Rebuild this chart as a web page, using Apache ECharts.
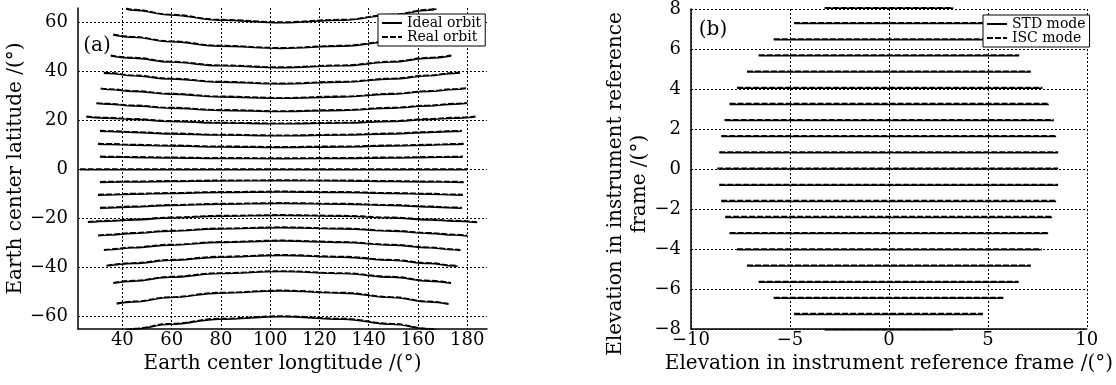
<!DOCTYPE html>
<html>
<head>
<meta charset="utf-8">
<script src="https://cdn.jsdelivr.net/npm/echarts/dist/echarts.min.js"></script>
<style>
html, body { margin: 0; padding: 0; background: #fff; }
#main { width: 1116px; height: 385px; }
</style>
</head>
<body>
<div id="main"></div>
<script>
// (a) scan lines on the Earth: one row per line, north to south
var orbitLon = [
  [41.5, 44.5, 59.5, 79.5, 104.5, 129.5, 149.5, 164.5, 167.5],
  [36.3, 44.5, 59.5, 79.5, 104.5, 129.5, 149.5, 164.5, 172.7],
  [35.3, 44.5, 59.5, 79.5, 104.5, 129.5, 149.5, 164.5, 173.5],
  [32.5, 34.5, 44.5, 59.5, 79.5, 104.5, 129.5, 149.5, 164.5, 174.5, 177.0],
  [31.2, 34.5, 44.5, 59.5, 79.5, 104.5, 129.5, 149.5, 164.5, 174.5, 179.5],
  [29.5, 34.5, 44.5, 59.5, 79.5, 104.5, 129.5, 149.5, 164.5, 174.5, 180.0],
  [25.4, 34.5, 44.5, 59.5, 79.5, 104.5, 129.5, 149.5, 164.5, 174.5, 183.3],
  [30.9, 34.5, 44.5, 59.5, 79.5, 104.5, 129.5, 149.5, 164.5, 174.5, 177.8],
  [30.1, 34.5, 44.5, 59.5, 79.5, 104.5, 129.5, 149.5, 164.5, 174.5, 178.5],
  [30.9, 34.5, 44.5, 59.5, 79.5, 104.5, 129.5, 149.5, 164.5, 174.5, 178.2],
  [22.8, 104.5, 180.0],
  [30.9, 34.5, 44.5, 59.5, 79.5, 104.5, 129.5, 149.5, 164.5, 174.5, 178.5],
  [30.1, 34.5, 44.5, 59.5, 79.5, 104.5, 129.5, 149.5, 164.5, 174.5, 178.2],
  [30.9, 34.5, 44.5, 59.5, 79.5, 104.5, 129.5, 149.5, 164.5, 174.5, 177.8],
  [26.0, 34.5, 44.5, 59.5, 79.5, 104.5, 129.5, 149.5, 164.5, 174.5, 184.0],
  [30.1, 34.5, 44.5, 59.5, 79.5, 104.5, 129.5, 149.5, 164.5, 174.5, 180.0],
  [32.5, 34.5, 44.5, 59.5, 79.5, 104.5, 129.5, 149.5, 164.5, 174.5, 177.2],
  [33.6, 44.5, 59.5, 79.5, 104.5, 129.5, 149.5, 164.5, 174.5, 176.1],
  [36.3, 44.5, 59.5, 79.5, 104.5, 129.5, 149.5, 164.5, 173.4],
  [37.7, 44.5, 59.5, 79.5, 104.5, 129.5, 149.5, 164.5, 172.4],
  [41.5, 44.5, 59.5, 79.5, 104.5, 129.5, 149.5, 164.5, 167.5]
];
var idealLat = [
  [65.6, 65.1, 63.1, 61.0, 60.0, 61.0, 63.1, 65.1, 65.6],
  [55.0, 54.0, 52.2, 50.4, 49.5, 50.4, 52.2, 54.0, 55.0],
  [46.4, 45.5, 43.9, 42.4, 41.6, 42.4, 43.9, 45.5, 46.4],
  [39.4, 39.3, 38.3, 37.0, 35.7, 35.0, 35.7, 37.0, 38.3, 39.3, 39.5],
  [33.0, 32.7, 31.9, 30.8, 29.7, 29.1, 29.7, 30.8, 31.9, 32.7, 33.1],
  [27.0, 26.7, 26.0, 25.1, 24.2, 23.7, 24.2, 25.1, 26.0, 26.7, 27.1],
  [21.5, 21.0, 20.5, 19.7, 19.0, 18.7, 19.0, 19.7, 20.5, 21.0, 21.5],
  [15.7, 15.6, 15.2, 14.6, 14.1, 13.8, 14.1, 14.6, 15.2, 15.6, 15.7],
  [10.4, 10.3, 10.0, 9.7, 9.3, 9.1, 9.3, 9.7, 10.0, 10.3, 10.4],
  [5.2, 5.1, 5.0, 4.8, 4.6, 4.5, 4.6, 4.8, 5.0, 5.1, 5.2],
  [0, 0, 0],
  [-5.2, -5.1, -5.0, -4.8, -4.6, -4.5, -4.6, -4.8, -5.0, -5.1, -5.2],
  [-10.4, -10.3, -10.0, -9.7, -9.3, -9.1, -9.3, -9.7, -10.0, -10.3, -10.4],
  [-15.7, -15.6, -15.2, -14.6, -14.1, -13.8, -14.1, -14.6, -15.2, -15.6, -15.7],
  [-21.5, -21.0, -20.5, -19.7, -19.0, -18.7, -19.0, -19.7, -20.5, -21.0, -21.6],
  [-27.0, -26.7, -26.0, -25.1, -24.2, -23.7, -24.2, -25.1, -26.0, -26.7, -27.05],
  [-32.9, -32.7, -31.9, -30.8, -29.7, -29.1, -29.7, -30.8, -31.9, -32.7, -32.95],
  [-39.35, -38.3, -37.0, -35.7, -35.0, -35.7, -37.0, -38.3, -39.3, -39.4],
  [-46.35, -45.5, -43.9, -42.4, -41.6, -42.4, -43.9, -45.5, -46.4],
  [-54.8, -54.0, -52.2, -50.4, -49.5, -50.4, -52.2, -54.0, -54.95],
  [-65.6, -65.1, -63.1, -61.0, -60.0, -61.0, -63.1, -65.1, -65.6]
];
var realLat = [
  [65.9, 65.4, 63.4, 61.3, 60.3, 61.3, 63.4, 65.4, 65.9],
  [55.3, 54.3, 52.5, 50.7, 49.8, 50.7, 52.5, 54.3, 55.3],
  [46.7, 45.8, 44.2, 42.7, 41.9, 42.7, 44.2, 45.8, 46.7],
  [39.7, 39.6, 38.6, 37.3, 36.0, 35.3, 36.0, 37.3, 38.6, 39.6, 39.8],
  [33.3, 33.0, 32.2, 31.1, 30.0, 29.4, 30.0, 31.1, 32.2, 33.0, 33.4],
  [27.3, 27.0, 26.3, 25.4, 24.5, 24.0, 24.5, 25.4, 26.3, 27.0, 27.4],
  [21.8, 21.3, 20.8, 20.0, 19.3, 19.0, 19.3, 20.0, 20.8, 21.3, 21.8],
  [16.0, 15.9, 15.5, 14.9, 14.4, 14.1, 14.4, 14.9, 15.5, 15.9, 16.0],
  [10.7, 10.6, 10.3, 10.0, 9.6, 9.4, 9.6, 10.0, 10.3, 10.6, 10.7],
  [5.5, 5.4, 5.3, 5.1, 4.9, 4.8, 4.9, 5.1, 5.3, 5.4, 5.5],
  [0.3, 0.3, 0.3],
  [-4.9, -4.8, -4.7, -4.5, -4.3, -4.2, -4.3, -4.5, -4.7, -4.8, -4.9],
  [-10.1, -10.0, -9.7, -9.4, -9.0, -8.8, -9.0, -9.4, -9.7, -10.0, -10.1],
  [-15.4, -15.3, -14.9, -14.3, -13.8, -13.5, -13.8, -14.3, -14.9, -15.3, -15.4],
  [-21.2, -20.7, -20.2, -19.4, -18.7, -18.4, -18.7, -19.4, -20.2, -20.7, -21.3],
  [-26.7, -26.4, -25.7, -24.8, -23.9, -23.4, -23.9, -24.8, -25.7, -26.4, -26.75],
  [-32.6, -32.4, -31.6, -30.5, -29.4, -28.8, -29.4, -30.5, -31.6, -32.4, -32.65],
  [-39.05, -38.0, -36.7, -35.4, -34.7, -35.4, -36.7, -38.0, -39.0, -39.1],
  [-46.05, -45.2, -43.6, -42.1, -41.3, -42.1, -43.6, -45.2, -46.1],
  [-54.5, -53.7, -51.9, -50.1, -49.2, -50.1, -51.9, -53.7, -54.65],
  [-65.3, -64.8, -62.8, -60.7, -59.7, -60.7, -62.8, -64.8, -65.3]
];

// (b) scan lines in the instrument frame
var stdElev = [8.04, 7.27, 6.46, 5.66, 4.85, 4.04, 3.23, 2.42, 1.62, 0.81, 0,
  -0.81, -1.62, -2.42, -3.23, -4.04, -4.85, -5.66, -6.46, -7.27, -8.04];
var iscElev = [8.06, 7.31, 6.50, 5.70, 4.89, 4.08, 3.27, 2.46, 1.66, 0.85, 0.04,
  -0.77, -1.58, -2.38, -3.19, -4.00, -4.81, -5.62, -6.42, -7.23, -8.02];
var scanStart = [-3.24, -4.79, -5.82, -6.58, -7.17, -7.67, -8.05, -8.3, -8.47, -8.57, -8.67,
  -8.57, -8.47, -8.27, -8.05, -7.67, -7.17, -6.58, -5.82, -4.79, -3.24];
var scanEnd = [3.25, 4.75, 5.8, 6.58, 7.17, 7.75, 8.08, 8.33, 8.45, 8.55, 8.55,
  8.55, 8.45, 8.25, 8.05, 7.72, 7.17, 6.55, 5.78, 4.75, 3.25];

var FONT = 'DejaVu Serif';
var chart = echarts.init(document.getElementById('main'));

function minus(v) {
  return v < 0 ? '\u2212' + Math.abs(v) : String(v);
}

var gridLine = { show: true, lineStyle: { color: '#000', width: 1, type: [2, 2] } };
var axisLine = { show: true, onZero: false, lineStyle: { color: '#000', width: 1.5 } };
var tickFont = { color: '#000', fontFamily: FONT, fontSize: 18 };
var nameFont = { color: '#000', fontFamily: FONT, fontSize: 20 };

var series = [];
orbitLon.forEach(function (lons, i) {
  series.push({
    name: 'Ideal orbit', type: 'line', xAxisIndex: 0, yAxisIndex: 0,
    data: lons.map(function (x, j) { return [x, idealLat[i][j]]; }),
    symbol: 'none', smooth: 0.4, smoothMonotone: 'x', silent: true,
    color: '#000', lineStyle: { color: '#000', width: 1.4 }
  });
  series.push({
    name: 'Real orbit', type: 'line', xAxisIndex: 0, yAxisIndex: 0,
    data: lons.map(function (x, j) { return [x, realLat[i][j]]; }),
    symbol: 'none', smooth: 0.4, smoothMonotone: 'x', silent: true,
    color: '#000', lineStyle: { color: '#000', width: 1.4, type: [6, 2] }
  });
});
stdElev.forEach(function (e, i) {
  series.push({
    name: 'STD mode', type: 'line', xAxisIndex: 1, yAxisIndex: 1,
    data: [[scanStart[i], e], [scanEnd[i], e]],
    symbol: 'none', silent: true, clip: false,
    color: '#000', lineStyle: { color: '#000', width: 1.5 }
  });
  series.push({
    name: 'ISC mode', type: 'line', xAxisIndex: 1, yAxisIndex: 1,
    data: [[scanStart[i], iscElev[i]], [scanEnd[i], iscElev[i]]],
    symbol: 'none', silent: true, clip: false,
    color: '#000', lineStyle: { color: '#000', width: 1.5, type: [6, 2] }
  });
});

var legendBase = {
  orient: 'vertical', itemWidth: 20, itemHeight: 14, itemGap: 0,
  padding: [2, 4, 2, 3], borderColor: '#000', borderWidth: 1,
  backgroundColor: '#fff', selectedMode: false,
  itemStyle: { opacity: 0, color: 'rgba(0,0,0,0)', borderColor: 'rgba(0,0,0,0)', borderWidth: 0 },
  textStyle: { color: '#000', fontFamily: FONT, fontSize: 14 }
};

chart.setOption({
  animation: false,
  backgroundColor: '#fff',
  color: ['#000'],
  grid: [
    { left: 78, top: 8, width: 409, height: 321 },
    { left: 691, top: 9, width: 401, height: 320 }
  ],
  xAxis: [
    {
      gridIndex: 0, type: 'value', min: 22, max: 188, splitNumber: 8,
      name: 'Earth center longtitude /(\u00b0)', nameLocation: 'middle', nameGap: 22,
      nameTextStyle: nameFont, axisLine: axisLine, axisTick: { show: false },
      axisLabel: Object.assign({ margin: 2, showMinLabel: false, showMaxLabel: false, formatter: minus }, tickFont),
      splitLine: Object.assign({ showMinLine: false, showMaxLine: false }, gridLine)
    },
    {
      gridIndex: 1, type: 'value', min: -10, max: 10, interval: 5,
      name: 'Elevation in instrument reference frame /(\u00b0)', nameLocation: 'middle', nameGap: 22,
      nameTextStyle: nameFont, axisLine: axisLine, axisTick: { show: false },
      axisLabel: Object.assign({ margin: 2, formatter: minus }, tickFont),
      splitLine: gridLine
    }
  ],
  yAxis: [
    {
      gridIndex: 0, type: 'value', min: -65, max: 66, splitNumber: 7,
      name: 'Earth center latitude /(\u00b0)', nameLocation: 'middle', nameGap: 50,
      nameTextStyle: nameFont, axisLine: axisLine, axisTick: { show: false },
      axisLabel: Object.assign({ margin: 10, showMinLabel: false, showMaxLabel: false, formatter: minus }, tickFont),
      splitLine: Object.assign({ showMinLine: false, showMaxLine: false }, gridLine)
    },
    {
      gridIndex: 1, type: 'value', min: -8, max: 8, interval: 2,
      axisLine: axisLine, axisTick: { show: false },
      axisLabel: Object.assign({ margin: 10, formatter: minus }, tickFont),
      splitLine: gridLine
    }
  ],
  legend: [
    Object.assign({ left: 378, top: 14, data: ['Ideal orbit', 'Real orbit'] }, legendBase),
    Object.assign({ left: 983, top: 15, data: ['STD mode', 'ISC mode'] }, legendBase)
  ],
  graphic: [
    { type: 'text', x: 97, y: 46, style: { text: '(a)', font: '20px "DejaVu Serif"', fill: '#000', align: 'center', verticalAlign: 'middle' } },
    { type: 'text', x: 713, y: 30, style: { text: '(b)', font: '20px "DejaVu Serif"', fill: '#000', align: 'center', verticalAlign: 'middle' } },
    { type: 'text', x: 616, y: 184, rotation: Math.PI / 2, style: { text: 'Elevation in instrument reference', font: '20px "DejaVu Serif"', fill: '#000', align: 'center', verticalAlign: 'middle' } },
    { type: 'text', x: 640, y: 184, rotation: Math.PI / 2, style: { text: 'frame /(\u00b0)', font: '20px "DejaVu Serif"', fill: '#000', align: 'center', verticalAlign: 'middle' } }
  ],
  series: series
});
</script>
</body>
</html>
